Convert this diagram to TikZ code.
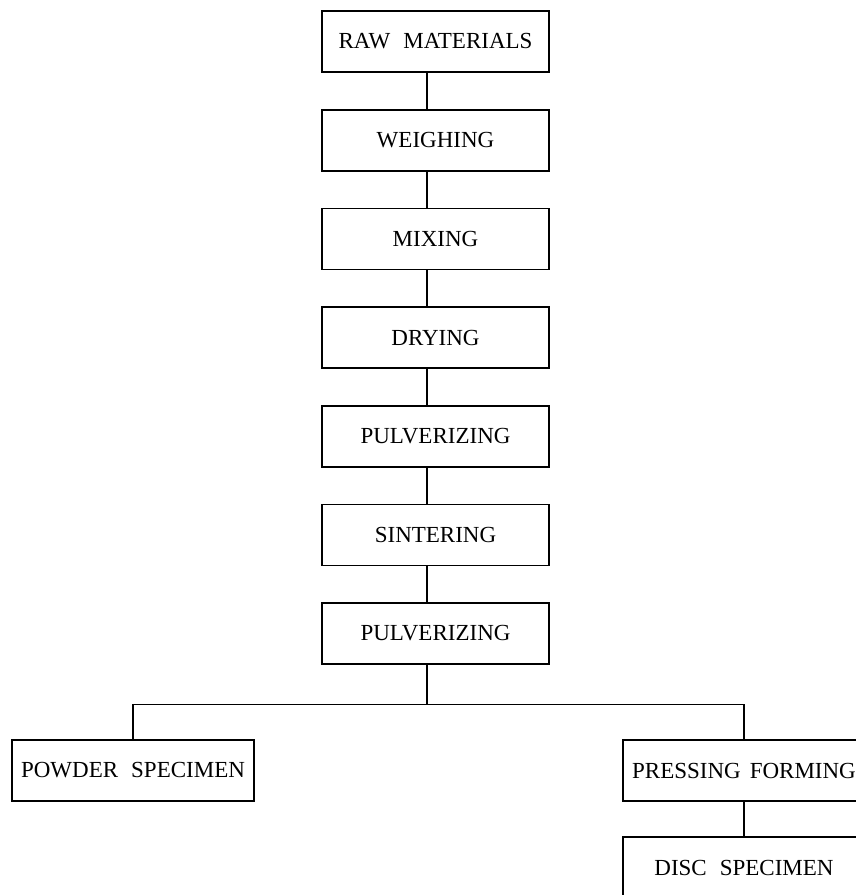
\documentclass[tikz,border=0pt]{standalone}
\usepackage{fontspec}
\setmainfont{Liberation Serif}
\newcommand\boxfont{\fontsize{23}{27}\selectfont\spaceskip=13pt\relax}
\begin{document}
\begin{tikzpicture}[x=1pt,y=-1pt,
  line width=1.6pt,
  box/.style={draw, rectangle, inner sep=2pt, minimum height=61pt,
    font={\boxfont}},
  midbox/.style={box, minimum width=227pt},
  sidebox/.style={box, minimum width=242pt}]
\clip (0,0) rectangle (856,895);
\useasboundingbox (0,0) rectangle (856,895);
\coordinate (axis) at (427,0);
\node[midbox] (b1) at (435.5, 41.5) {RAW MATERIALS};
\node[midbox] (b2) at (435.5, 140.2) {WEIGHING};
\node[midbox] (b3) at (435.5, 238.8) {MIXING};
\node[midbox] (b4) at (435.5, 337.5) {DRYING};
\node[midbox] (b5) at (435.5, 436.2) {PULVERIZING};
\node[midbox] (b6) at (435.5, 534.8) {SINTERING};
\node[midbox] (b7) at (435.5, 633.5) {PULVERIZING};
\coordinate (br) at (427, 704.5);
\node[sidebox] (powder) at (133, 770.5) {POWDER SPECIMEN};
\node[sidebox, font={\boxfont\spaceskip=9pt\relax}] (press) at (744, 770.5) {PRESSING FORMING};
\node[sidebox] (disc) at (744, 867.5) {DISC SPECIMEN};
\foreach \a/\b in {b1/b2,b2/b3,b3/b4,b4/b5,b5/b6,b6/b7}
  \draw (\a.south -| axis) -- (\b.north -| axis);
\draw (b7.south -| axis) -- (br);
\draw (powder.north) -- (powder.north |- br) -- (press.north |- br) -- (press.north);
\draw (press.south) -- (disc.north);
\end{tikzpicture}
\end{document}
